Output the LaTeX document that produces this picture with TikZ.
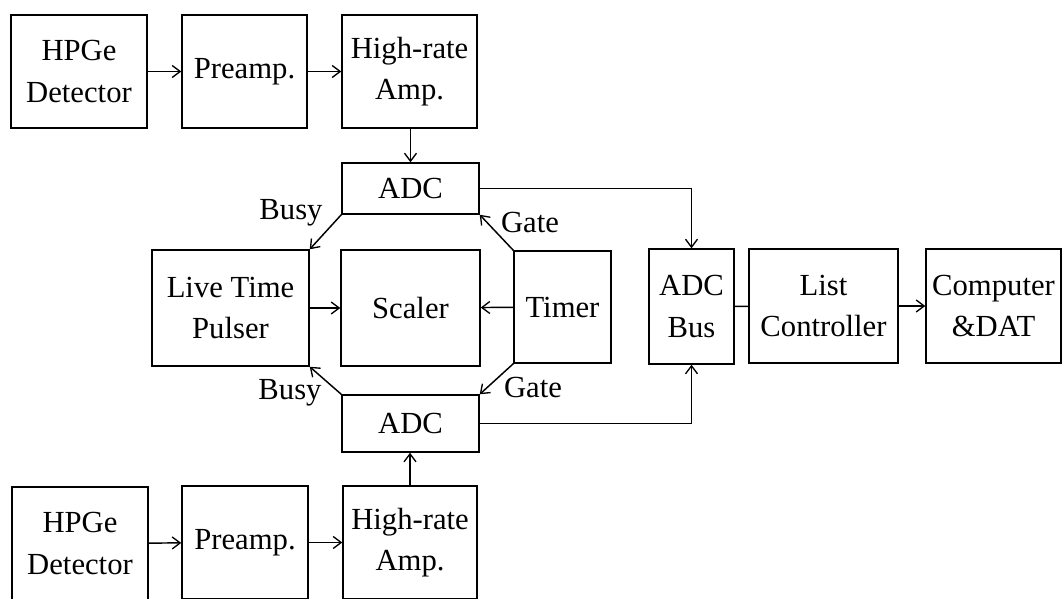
\documentclass[tikz,border=0pt]{standalone}
\usepackage{fontspec}
\setmainfont{Liberation Serif}
\usetikzlibrary{arrows.meta}

\begin{document}
\begin{tikzpicture}[
  x=0.75pt, y=-0.75pt,
  font=\fontsize{23}{31}\selectfont,
  line width=1.1pt,
  blk/.style={draw, rectangle, inner sep=0pt, align=center},
  lbl/.style={inner sep=0pt},
  sig/.style={-{Straight Barb[length=6pt,width=9pt,line width=1pt]}},
  wire/.style={-}
]
\useasboundingbox (0,0) rectangle (1063,601);
\begin{scope}
\clip (0,0) rectangle (1063,598);

% upper detector chain
\node[blk, minimum width=102pt,   minimum height=84.75pt] (hp1) at (79,71.5)    {HPGe\\Detector};
\node[blk, minimum width=93.75pt, minimum height=84.75pt] (pa1) at (244.5,71.5)  {Preamp.};
\node[blk, minimum width=101.25pt,minimum height=84.75pt] (hr1) at (409.5,71.5)  {High-rate\\Amp.};
\node[blk, minimum width=102.75pt,minimum height=38.25pt] (adc1) at (410.5,188.5) {ADC};

% timing block
\node[blk, minimum width=117.75pt,minimum height=87pt] (ltp) at (230.5,308) {Live Time\\Pulser};
\node[blk, minimum width=104.25pt,minimum height=87pt] (sc)  at (410.5,308) {Scaler};
\node[blk, minimum width=72.75pt, minimum height=84pt] (tm)  at (562.5,307) {Timer};

% lower ADC
\node[blk, minimum width=102.75pt,minimum height=42.75pt] (adc2) at (410.5,423.5) {ADC};

% data acquisition chain
\node[blk, minimum width=63.75pt, minimum height=86.25pt] (bus) at (691.5,306.5) {ADC\\Bus};
\node[blk, minimum width=111.75pt,minimum height=85.5pt]  (lc)  at (823.5,306)   {List\\Controller};
\node[blk, minimum width=101.25pt,minimum height=85.5pt]  (cmp) at (993.5,306)   {Computer\\\&DAT};

% lower detector chain
\node[blk, minimum width=102pt,  minimum height=84.75pt] (hp2) at (80,543.5)  {HPGe\\Detector};
\node[blk, minimum width=94.5pt, minimum height=84.75pt] (pa2) at (245,542.5) {Preamp.};
\node[blk, minimum width=100.5pt,minimum height=84.75pt] (hr2) at (410,542.5) {High-rate\\Amp.};

% signal labels
\node[lbl] (busy1) at (291,213) {Busy};
\node[lbl] (busy2) at (290,393) {Busy};
\node[lbl] (gate1) at (530,222) {Gate};
\node[lbl] (gate2) at (533,387) {Gate};

% connectors
\draw[sig] (hp1) -- (pa1);
\draw[sig] (pa1) -- (hr1);
\draw[sig] (hr1.south -| adc1.north) -- (adc1.north);
\draw[sig] (adc1.east) -| (bus.north);

\draw[sig] (hp2) -- (pa2);
\draw[sig] (pa2) -- (hr2);
\draw[sig] (hr2.north) -- (hr2.north |- adc2.south);
\draw[sig] (adc2.east) -| (bus.south);

\draw[sig] (adc1.south west) -- (ltp.north east);
\draw[sig] (adc2.north west) -- (ltp.south east);
\draw[sig] (tm.north west) -- (adc1.south east);
\draw[sig] (tm.south west) -- (adc2.north east);
\draw[sig] (ltp) -- (sc);
\draw[sig] (tm) -- (sc);

\draw[wire] (bus) -- (lc);
\draw[sig] (lc) -- (cmp);
\end{scope}
\end{tikzpicture}
\end{document}
